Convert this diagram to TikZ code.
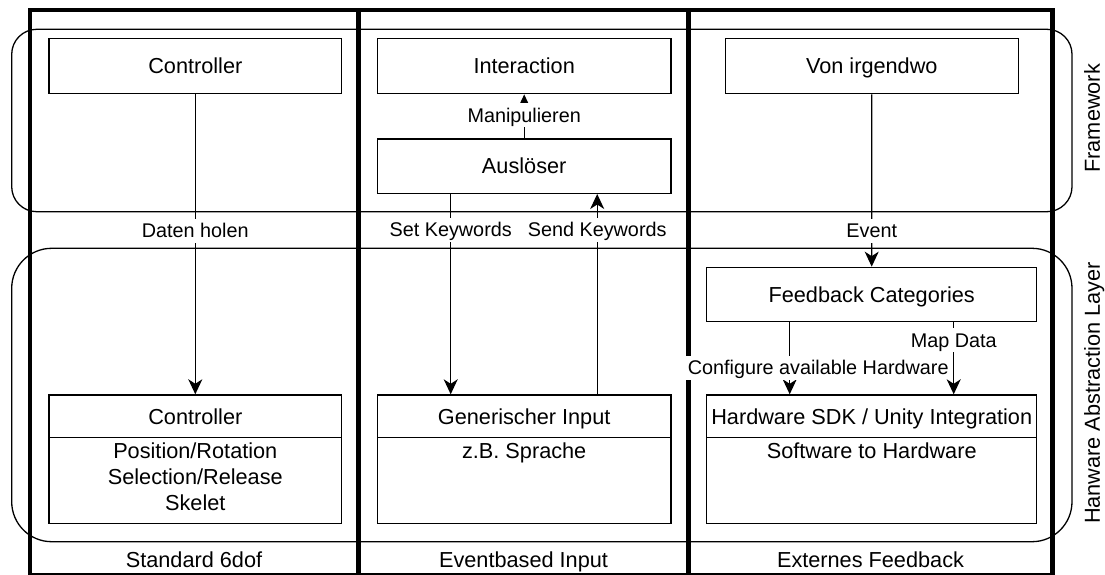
\documentclass[tikz,border=0pt]{standalone}
\usepackage{fontspec}
\setmainfont{Liberation Sans}
\usetikzlibrary{arrows.meta,calc}
\newcommand\fsbig{\fontsize{21.7pt}{26pt}\selectfont}
\newcommand\fssmall{\fontsize{19.8pt}{24pt}\selectfont}
\begin{document}
\begin{tikzpicture}[x=1pt,y=-1pt,
  box/.style={draw, fill=white, line width=1.3pt, inner sep=0pt, text height=15.5pt, text depth=0pt, font=\fsbig},
  bodytext/.style={anchor=north, align=center, inner sep=0pt, font=\fsbig},
  lbl/.style={fill=white, inner xsep=2.5pt, inner ysep=2.8pt, text height=16.3pt, text depth=2.1pt, font=\fssmall},
  arr/.style={line width=1.3pt, -{Stealth[length=15pt,width=14pt,inset=4.5pt]}},
  lane/.style={line width=4.5pt},
  grp/.style={line width=1.3pt},
  plain/.style={inner sep=0pt, text height=15.5pt, text depth=0pt, font=\fsbig}
]
\useasboundingbox[fill=white] (0,0) rectangle (1105,575);

% groups
\draw[grp, rounded corners=25pt] (11.7,29.3) rectangle (1072,211.7);
\draw[grp, rounded corners=40pt] (11.7,248.3) rectangle (1072,541.7);

% lanes
\draw[lane, line join=miter] (30,575) -- (30,9.8) -- (1052.5,9.8) -- (1052.5,575);
\draw[lane] (358.3,9.8) -- (358.3,575);
\draw[lane] (688.5,9.8) -- (688.5,575);
\draw[line width=1.3pt] (30,574) -- (1052.5,574);

% lane titles
\node[plain] (l1) at (194,560) {Standard 6dof};
\node[plain] (l2) at (523.5,560) {Eventbased Input};
\node[plain] (l3) at (870.5,560) {Externes Feedback};

% group titles
\node[plain, rotate=90] (fw) at (1092,118.3) {Framework};
\node[plain, rotate=90] (hal) at (1092,393) {Hanware Abstraction Layer};

% top boxes
\node[box, minimum width=292.7pt, minimum height=55.5pt] (ctl) at (195.3,66) {Controller};
\node[box, minimum width=293.7pt, minimum height=55.5pt] (inter) at (524.2,66) {Interaction};
\node[box, minimum width=293pt, minimum height=55.5pt] (von) at (871.8,66) {Von irgendwo};
\node[box, minimum width=293.7pt, minimum height=54.3pt] (ausl) at (524.2,166.2) {Auslöser};
\node[box, minimum width=330pt, minimum height=54.4pt] (fb) at (871.7,294.5) {Feedback Categories};

% lower boxes: header + body
\node[box, minimum width=292.7pt, minimum height=42.7pt] (ctlh) at (195.3,416.3) {Controller};
\node[box, minimum width=292.7pt, minimum height=85.6pt] (ctlb) at (195.3,480.5) {};
\node[bodytext] (ctlt) at ($(ctlb.north)+(0,5.8)$) {Position/Rotation\\Selection/Release\\Skelet};

\node[box, minimum width=293.7pt, minimum height=42.7pt] (genh) at (524.2,416.3) {Generischer Input};
\node[box, minimum width=293.7pt, minimum height=85.6pt] (genb) at (524.2,480.5) {};
\node[bodytext] (gent) at ($(genb.north)+(0,5.8)$) {z.B. Sprache};

\node[box, minimum width=330pt, minimum height=42.7pt] (hwh) at (871.7,416.3) {Hardware SDK / Unity Integration};
\node[box, minimum width=330pt, minimum height=85.6pt] (hwb) at (871.7,480.5) {};
\node[bodytext] (hwt) at ($(hwb.north)+(0,5.8)$) {Software to Hardware};

% connectors
\draw[arr] (ctl.south) -- node[lbl, pos=0.455] {Daten holen} (ctlh.north);
\draw[arr] (ausl.north) -- node[lbl, pos=0.522] {Manipulieren} (inter.south);
\draw[arr] ([xshift=-73.5pt]ausl.south) -- node[lbl, pos=0.179] {Set Keywords} ([xshift=-73.5pt]genh.north);
\draw[arr] ([xshift=73pt]genh.north) -- node[lbl, pos=0.821] {Send Keywords} ([xshift=73pt]ausl.south);
\draw[arr] (von.south) -- node[lbl, pos=0.792] {Event} (fb.north);
\draw[arr] ([xshift=-82pt]fb.south) -- node[lbl, pos=0.63, xshift=28.5pt] {Configure available Hardware} ([xshift=-82pt]hwh.north);
\draw[arr] ([xshift=82pt]fb.south) -- node[lbl, pos=0.247] {Map Data} ([xshift=82pt]hwh.north);
\end{tikzpicture}
\end{document}
